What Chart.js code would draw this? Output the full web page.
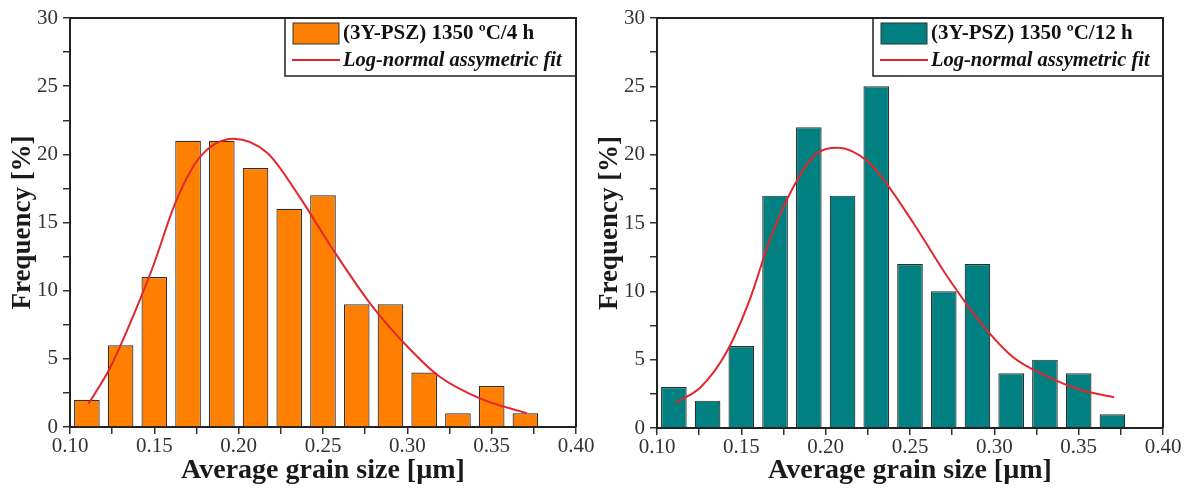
<!DOCTYPE html>
<html>
<head>
<meta charset="utf-8">
<script src="https://cdn.jsdelivr.net/npm/chart.js@4"></script>
<style>
  html, body { margin: 0; padding: 0; background: #fff; }
  .panel { position: absolute; top: 0; height: 490px; }
  #leftPanel { left: 0; width: 600px; }
  #rightPanel { left: 596px; width: 596px; }
</style>
</head>
<body>
<div class="panel" id="leftPanel"><canvas id="chart4h"></canvas></div>
<div class="panel" id="rightPanel"><canvas id="chart12h"></canvas></div>
<script>
const binCenters = [0.11, 0.13, 0.15, 0.17, 0.19, 0.21, 0.23, 0.25, 0.27, 0.29, 0.31, 0.33, 0.35, 0.37];
const freq4h = [2, 6, 11, 21, 21, 19, 16, 17, 9, 9, 4, 1, 3, 1];
const freq12h = [3, 2, 6, 17, 22, 17, 25, 12, 10, 12, 4, 5, 4, 1];

// log-normal fit curves, sampled along the drawn line
const fit4hX = [0.111, 0.124, 0.138, 0.149, 0.163, 0.177, 0.197, 0.217, 0.236, 0.256, 0.278, 0.300, 0.319, 0.343, 0.371];
const fit4hY = [1.7, 4.4, 8.3, 11.7, 16.6, 19.8, 21.15, 20.1, 16.9, 13.0, 9.05, 5.9, 3.7, 2.1, 1.0];
const fit12hX = [0.111, 0.126, 0.141, 0.155, 0.167, 0.179, 0.193, 0.2075, 0.224, 0.233, 0.252, 0.272, 0.292, 0.311, 0.331, 0.351, 0.371];
const fit12hY = [1.85, 3.0, 5.5, 9.4, 13.8, 17.2, 19.9, 20.5, 19.6, 18.4, 15.0, 11.1, 7.7, 5.2, 3.8, 2.8, 2.25];

const label4h = "(3Y-PSZ) 1350 ºC/4 h";
const label12h = "(3Y-PSZ) 1350 ºC/12 h";
const fitLabel = "Log-normal assymetric fit";
const xTitle = "Average grain size [µm]";
const yTitle = "Frequency [%]";

const SERIF = '"Liberation Serif", "Times New Roman", serif';
const RED = "#e3262d";

const isMultiple = (v, step) => Math.abs(Math.round(v / step) - v / step) < 1e-6;

// legend box anchored to the top-right corner of the plot
const boxLegend = {
  id: "boxLegend",
  afterDatasetsDraw(chart, args, opts) {
    const { ctx, chartArea: a } = chart;
    const x0 = a.right - opts.width;
    const y0 = a.top;
    ctx.save();
    ctx.fillStyle = "#fff";
    ctx.fillRect(x0, y0, opts.width, opts.height);
    ctx.strokeStyle = "#222";
    ctx.lineWidth = 1.5;
    ctx.strokeRect(x0, y0, opts.width, opts.height);

    ctx.fillStyle = opts.color;
    ctx.fillRect(x0 + 8, y0 + 5, 46, 21);
    ctx.strokeStyle = "#333";
    ctx.lineWidth = 1;
    ctx.strokeRect(x0 + 8, y0 + 5, 46, 21);

    ctx.strokeStyle = RED;
    ctx.lineWidth = 2;
    ctx.beginPath();
    ctx.moveTo(x0 + 7, y0 + 42);
    ctx.lineTo(x0 + 55, y0 + 42);
    ctx.stroke();

    ctx.fillStyle = "#111";
    ctx.textBaseline = "middle";
    ctx.font = "bold 21px " + SERIF;
    ctx.fillText(opts.label, x0 + 58, y0 + 16);
    ctx.font = "italic bold 20.5px " + SERIF;
    ctx.fillText(fitLabel, x0 + 58, y0 + 43);
    ctx.restore();
  },
};

// top and right sides of the frame
const frame = {
  id: "frame",
  afterDraw(chart) {
    const { ctx, chartArea: a } = chart;
    ctx.save();
    ctx.strokeStyle = "#222";
    ctx.lineWidth = 2;
    ctx.beginPath();
    ctx.moveTo(a.left, a.top);
    ctx.lineTo(a.right, a.top);
    ctx.lineTo(a.right, a.bottom);
    ctx.stroke();
    ctx.restore();
  },
};

function makeChart(canvasId, freq, fitX, fitY, color, label, opt) {
  return new Chart(document.getElementById(canvasId), {
    type: "bar",
    data: {
      datasets: [
        {
          type: "line",
          data: fitX.map((x, i) => ({ x, y: fitY[i] })),
          borderColor: RED,
          borderWidth: 2,
          pointRadius: 0,
          cubicInterpolationMode: "monotone",
          order: 0,
        },
        {
          type: "bar",
          data: binCenters.map((x, i) => ({ x, y: freq[i] })),
          backgroundColor: color,
          borderColor: "#2e2e2e",
          borderWidth: 1.2,
          barPercentage: 0.76,
          categoryPercentage: 1,
          order: 1,
        },
      ],
    },
    options: {
      responsive: true,
      maintainAspectRatio: false,
      animation: false,
      layout: { padding: { top: 18, right: opt.padRight, left: 0, bottom: 0 } },
      plugins: {
        legend: { display: false },
        tooltip: { enabled: false },
        boxLegend: { width: opt.legendWidth, height: 58, color, label },
      },
      scales: {
        x: {
          type: "linear",
          min: 0.1,
          max: 0.4,
          offset: false,
          afterFit: (s) => { s.height = opt.xHeight; },
          grid: { offset: false, drawOnChartArea: false, drawTicks: true, tickLength: 7, color: "#333", lineWidth: 1.5 },
          border: { display: true, color: "#222", width: 2 },
          ticks: {
            stepSize: 0.025,
            autoSkip: false,
            maxRotation: 0,
            padding: 0,
            color: "#333",
            font: { family: SERIF, size: 21 },
            callback: (v) => (isMultiple(v, 0.05) ? Number(v).toFixed(2) : ""),
          },
          title: {
            display: true,
            text: xTitle,
            color: "#1a1a1a",
            font: { family: SERIF, size: 28, weight: "bold", lineHeight: 1 },
            padding: { top: 0, bottom: 5 },
          },
        },
        y: {
          min: 0,
          max: 30,
          afterFit: (s) => { s.width = opt.yWidth; },
          grid: { drawOnChartArea: false, drawTicks: true, tickLength: 7, color: "#333", lineWidth: 1.5 },
          border: { display: true, color: "#222", width: 2 },
          ticks: {
            stepSize: 2.5,
            autoSkip: false,
            padding: 5,
            color: "#333",
            font: { family: SERIF, size: 21 },
            callback: (v) => (isMultiple(v, 5) ? String(v) : ""),
          },
          title: {
            display: true,
            text: yTitle,
            color: "#1a1a1a",
            font: { family: SERIF, size: 27, weight: "bold", lineHeight: 1 },
            padding: { top: opt.yTitlePad, bottom: 0 },
          },
        },
      },
    },
    plugins: [boxLegend, frame],
  });
}

makeChart("chart4h", freq4h, fit4hX, fit4hY, "#ff8000", label4h,
  { yWidth: 70, xHeight: 63, padRight: 24, legendWidth: 291, yTitlePad: 10 });
makeChart("chart12h", freq12h, fit12hX, fit12hY, "#008080", label12h,
  { yWidth: 61, xHeight: 62, padRight: 29, legendWidth: 290, yTitlePad: 1 });
</script>
</body>
</html>
